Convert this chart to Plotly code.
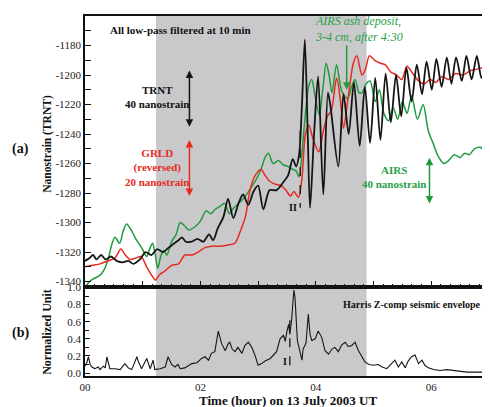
import plotly.graph_objects as go

# ---------------- data ----------------
trnt_h = [0.00, 0.08, 0.14, 0.20, 0.28, 0.36, 0.45, 0.55, 0.65, 0.75, 0.84, 0.95, 1.05, 1.15, 1.25, 1.35,
          1.45, 1.55, 1.62, 1.68, 1.75, 1.85, 1.95, 2.05, 2.15, 2.22, 2.30, 2.40, 2.48, 2.57, 2.66, 2.74,
          2.83, 2.92, 3.00, 3.09, 3.20, 3.32, 3.43, 3.52, 3.60, 3.66, 3.71, 3.76, 3.81, 3.86, 3.90, 3.97,
          4.04, 4.13, 4.21, 4.25, 4.39, 4.48, 4.57, 4.66, 4.76, 4.85, 4.94, 5.03, 5.12, 5.21, 5.30, 5.39,
          5.48, 5.57, 5.66, 5.75, 5.84, 5.92, 6.01, 6.09, 6.18, 6.27, 6.35, 6.43, 6.53, 6.61, 6.70, 6.79,
          6.87, 6.96]
trnt_v = [-1326, -1324, -1322, -1325, -1322, -1325, -1323, -1326, -1327, -1326, -1328, -1325, -1320, -1322, -1318, -1320,
          -1317, -1314, -1312, -1310, -1313, -1313, -1311, -1313, -1308, -1312, -1304, -1296, -1284, -1297, -1287, -1281,
          -1288, -1279, -1275, -1291, -1278, -1278, -1273, -1268, -1257, -1262, -1254, -1220, -1176, -1240, -1290, -1240,
          -1201, -1281, -1212, -1220, -1262, -1213, -1240, -1205, -1248, -1208, -1246, -1202, -1244, -1199, -1232, -1200,
          -1228, -1195, -1218, -1193, -1213, -1191, -1210, -1189, -1208, -1188, -1206, -1188, -1204, -1187, -1203, -1187,
          -1202, -1188]

grld_h = [0.00, 0.13, 0.26, 0.40, 0.52, 0.62, 0.70, 0.78, 0.88, 0.97, 1.07, 1.16, 1.22, 1.30, 1.38, 1.50,
          1.62, 1.73, 1.85, 1.96, 2.08, 2.20, 2.35, 2.50, 2.60, 2.70, 2.78, 2.86, 2.95, 3.05, 3.12, 3.20,
          3.30, 3.40, 3.48, 3.56, 3.62, 3.70, 3.76, 3.82, 3.88, 3.95, 4.05, 4.13, 4.20, 4.27, 4.36, 4.42,
          4.48, 4.56, 4.65, 4.71, 4.80, 4.86, 4.93, 5.02, 5.12, 5.20, 5.30, 5.40, 5.49, 5.58, 5.68, 5.78,
          5.88, 5.98, 6.08, 6.18, 6.30, 6.42, 6.55, 6.68, 6.80, 6.96]
grld_v = [-1330, -1329, -1328, -1326, -1324, -1318, -1322, -1325, -1324, -1323, -1330, -1336, -1339, -1335, -1333, -1329,
          -1328, -1322, -1322, -1320, -1317, -1316, -1316, -1315, -1314, -1305, -1296, -1278, -1268, -1264, -1268, -1272,
          -1274, -1275, -1278, -1282, -1279, -1283, -1270, -1240, -1234, -1243, -1252, -1238, -1228, -1224, -1202, -1215,
          -1236, -1215, -1192, -1187, -1200, -1196, -1187, -1190, -1192, -1193, -1198, -1200, -1203, -1194, -1199, -1204,
          -1206, -1203, -1205, -1201, -1203, -1199, -1200, -1197, -1196, -1194]

airs_h = [0.00, 0.08, 0.15, 0.25, 0.33, 0.40, 0.47, 0.52, 0.60, 0.66, 0.72, 0.80, 0.88, 0.98, 1.07, 1.12,
          1.17, 1.21, 1.26, 1.32, 1.37, 1.42, 1.50, 1.58, 1.65, 1.72, 1.80, 1.90, 2.00, 2.10, 2.18, 2.26,
          2.34, 2.42, 2.50, 2.58, 2.66, 2.74, 2.85, 2.95, 3.05, 3.12, 3.18, 3.26, 3.35, 3.44, 3.52, 3.60,
          3.66, 3.71, 3.77, 3.83, 3.88, 3.93, 3.99, 4.06, 4.12, 4.18, 4.23, 4.28, 4.36, 4.45, 4.55, 4.62,
          4.68, 4.75, 4.80, 4.87, 4.94, 5.03, 5.10, 5.18, 5.26, 5.34, 5.42, 5.50, 5.58, 5.66, 5.76, 5.86,
          5.95, 6.03, 6.12, 6.22, 6.30, 6.40, 6.50, 6.58, 6.66, 6.75, 6.85, 6.92, 6.98]
airs_v = [-1344, -1340, -1338, -1336, -1332, -1325, -1314, -1310, -1314, -1306, -1301, -1305, -1311, -1317, -1323, -1318,
          -1314, -1320, -1331, -1322, -1319, -1322, -1313, -1308, -1300, -1302, -1305, -1303, -1299, -1292, -1294, -1291,
          -1289, -1287, -1294, -1290, -1287, -1284, -1278, -1272, -1264, -1256, -1253, -1260, -1258, -1261, -1262, -1264,
          -1265, -1269, -1248, -1222, -1207, -1203, -1215, -1227, -1210, -1192, -1200, -1212, -1193, -1211, -1216, -1208,
          -1203, -1212, -1212, -1206, -1204, -1218, -1210, -1226, -1231, -1222, -1230, -1218, -1226, -1214, -1230, -1220,
          -1238, -1246, -1255, -1260, -1258, -1254, -1256, -1253, -1254, -1250, -1249, -1251, -1250]

env_h = [0.00, 0.03, 0.06, 0.09, 0.12, 0.17, 0.23, 0.26, 0.32, 0.35, 0.38, 0.40, 0.43, 0.52, 0.61, 0.69,
         0.75, 0.81, 0.87, 0.90, 0.92, 0.98, 1.07, 1.13, 1.18, 1.21, 1.30, 1.39, 1.44, 1.50, 1.56, 1.61,
         1.65, 1.73, 1.85, 1.94, 2.02, 2.08, 2.14, 2.19, 2.25, 2.31, 2.37, 2.43, 2.48, 2.51, 2.55, 2.60,
         2.65, 2.72, 2.77, 2.83, 2.89, 2.95, 3.00, 3.06, 3.12, 3.21, 3.32, 3.38, 3.44, 3.47, 3.50, 3.53,
         3.55, 3.58, 3.62, 3.64, 3.68, 3.71, 3.76, 3.78, 3.83, 3.87, 3.90, 3.93, 3.99, 4.04, 4.10, 4.16,
         4.22, 4.28, 4.33, 4.39, 4.45, 4.51, 4.56, 4.62, 4.68, 4.74, 4.80, 4.85, 4.92, 5.00, 5.08, 5.15,
         5.23, 5.30, 5.37, 5.43, 5.49, 5.55, 5.60, 5.66, 5.72, 5.78, 5.84, 5.89, 5.95, 6.04, 6.15, 6.27,
         6.38, 6.50, 6.62, 6.76, 6.98]
env_v = [0.08, 0.12, 0.19, 0.10, 0.07, 0.05, 0.07, 0.04, 0.08, 0.06, 0.19, 0.12, 0.05, 0.05, 0.04, 0.11,
         0.06, 0.04, 0.15, 0.19, 0.14, 0.05, 0.17, 0.05, 0.15, 0.04, 0.05, 0.07, 0.19, 0.10, 0.07, 0.10,
         0.05, 0.06, 0.11, 0.12, 0.17, 0.19, 0.15, 0.23, 0.25, 0.49, 0.34, 0.26, 0.34, 0.36, 0.28, 0.25,
         0.30, 0.23, 0.32, 0.36, 0.30, 0.20, 0.09, 0.11, 0.14, 0.17, 0.25, 0.40, 0.44, 0.37, 0.49, 0.57,
         0.45, 0.62, 0.97, 0.88, 0.38, 0.30, 0.15, 0.28, 0.35, 0.69, 0.45, 0.38, 0.40, 0.49, 0.42, 0.26,
         0.22, 0.28, 0.30, 0.25, 0.33, 0.36, 0.31, 0.32, 0.36, 0.26, 0.19, 0.13, 0.10, 0.09, 0.10, 0.07,
         0.05, 0.10, 0.15, 0.07, 0.13, 0.06, 0.14, 0.19, 0.21, 0.11, 0.15, 0.09, 0.06, 0.04, 0.03, 0.04,
         0.03, 0.02, 0.01, 0.01, 0.01]

shade_span = [1.23, 4.88]
strain_ticks = [-1340, -1320, -1300, -1280, -1260, -1240, -1220, -1200, -1180]
strain_minor = [-1330, -1310, -1290, -1270, -1250, -1230, -1210, -1190, -1170, -1160]
norm_ticks = [0.0, 0.2, 0.4, 0.6, 0.8, 1.0]
norm_minor = [0.1, 0.3, 0.5, 0.7, 0.9]
hour_ticks = [0, 2, 4, 6]
hour_labels = ["00", "02", "04", "06"]

# markers / scale bars
trnt_bar = (1.81, -1196, -1235)
grld_bar = (1.81, -1243, -1282)
airs_bar = (5.97, -1255, -1287)
ash_arrow = (4.535, -1179, -1210)
marker_II = (3.73, -1238, -1290)
marker_I = (3.55, 0.09, 0.64)

BLACK = "#151515"
RED = "#e62a1e"
GREEN = "#1f9a3c"
GREEN_TXT = "#27a048"
FONT = "Liberation Serif"

fig = go.Figure()
fig.add_trace(go.Scatter(x=airs_h, y=airs_v, mode="lines", line=dict(color=GREEN, width=1.5, shape="spline", smoothing=0.8),
                         xaxis="x", yaxis="y", showlegend=False))
fig.add_trace(go.Scatter(x=grld_h, y=grld_v, mode="lines", line=dict(color=RED, width=1.5, shape="spline", smoothing=0.8),
                         xaxis="x", yaxis="y", showlegend=False))
fig.add_trace(go.Scatter(x=trnt_h, y=trnt_v, mode="lines", line=dict(color=BLACK, width=1.8, shape="spline", smoothing=0.8),
                         xaxis="x", yaxis="y", showlegend=False))
fig.add_trace(go.Scatter(x=env_h, y=env_v, mode="lines", line=dict(color=BLACK, width=1.1),
                         xaxis="x2", yaxis="y2", showlegend=False))

XR = [0, 6.984]
split = 90 / 366

axis_font = dict(family=FONT, size=11, color="#222")
fig.update_layout(
    width=490, height=407,
    # the page body adds an 8px offset; margins compensate so the plot lands where the reference has it
    margin=dict(l=77, r=10, t=2, b=39),
    paper_bgcolor="white", plot_bgcolor="rgba(0,0,0,0)",
    font=dict(family=FONT, color="#111"),
    xaxis=dict(domain=[0, 1], anchor="y", range=XR, showticklabels=False, showgrid=False, zeroline=False,
               showline=True, linecolor="#111", linewidth=1.5, mirror=True,
               ticks="inside", tickmode="linear", tick0=0, dtick=1, ticklen=7, tickwidth=1.2, tickcolor="#111",
               minor=dict(ticks="inside", tickmode="linear", tick0=0, dtick=1/6, ticklen=4, tickwidth=1, tickcolor="#111")),
    yaxis=dict(domain=[split, 1], anchor="x", range=[-1344, -1160], showgrid=False, zeroline=False,
               showline=True, linecolor="#111", linewidth=1.5, mirror=False,
               tickmode="array", tickvals=strain_ticks, ticktext=["-" + str(abs(t)) for t in strain_ticks],
               ticks="inside", ticklen=6, tickwidth=1.2, tickcolor="#111", tickfont=axis_font,
               minor=dict(ticks="inside", tickmode="array", tickvals=strain_minor, ticklen=6, tickwidth=1.2, tickcolor="#111")),
    xaxis2=dict(domain=[0, 1], anchor="y2", range=XR, showgrid=False, zeroline=False,
                showline=True, linecolor="#111", linewidth=1.5, mirror=True,
                tickmode="array", tickvals=hour_ticks, ticktext=hour_labels, ticks="", tickfont=axis_font),
    yaxis2=dict(domain=[0, split], anchor="x2", range=[-0.035, 1.0], showgrid=False, zeroline=False,
                showline=True, linecolor="#111", linewidth=1.5, mirror="ticks",
                tickmode="array", tickvals=norm_ticks, ticktext=["%.1f" % t for t in norm_ticks],
                ticks="inside", ticklen=5, tickwidth=1.2, tickcolor="#111", tickfont=axis_font,
                minor=dict(ticks="inside", tickmode="array", tickvals=norm_minor, ticklen=4, tickwidth=1, tickcolor="#111")),
)

# grey shaded interval across both panels
fig.add_shape(type="rect", xref="x", yref="paper", x0=shade_span[0], x1=shade_span[1], y0=0, y1=1,
              fillcolor="#c9c9cb", line=dict(width=0), layer="below")

# dashed markers
fig.add_shape(type="line", xref="x", yref="y", x0=marker_II[0], x1=marker_II[0], y0=marker_II[1], y1=marker_II[2],
              line=dict(color=BLACK, width=1.3, dash="dash"))
fig.add_shape(type="line", xref="x2", yref="y2", x0=marker_I[0], x1=marker_I[0], y0=marker_I[1], y1=marker_I[2],
              line=dict(color=BLACK, width=1.3, dash="dash"))

def bar(xy, color):
    x, y0, y1 = xy
    fig.add_annotation(x=x, y=y1, ax=x, ay=y0, xref="x", yref="y", axref="x", ayref="y", text="",
                       showarrow=True, arrowhead=2, arrowside="end+start", arrowsize=1, arrowwidth=1.5,
                       arrowcolor=color)

bar(trnt_bar, BLACK)
bar(grld_bar, RED)
bar(airs_bar, GREEN)
fig.add_annotation(x=ash_arrow[0], y=ash_arrow[2], ax=ash_arrow[0], ay=ash_arrow[1], xref="x", yref="y",
                   axref="x", ayref="y", text="", showarrow=True, arrowhead=2, arrowsize=1, arrowwidth=1.5,
                   arrowcolor=GREEN)

def txt(x, y, s, color="#111", size=11, bold=True, italic=False, xanchor="center", xref="x", yref="y", angle=0, align="center"):
    if bold:
        s = "<b>" + s + "</b>"
    if italic:
        s = "<i>" + s + "</i>"
    fig.add_annotation(x=x, y=y, xref=xref, yref=yref, text=s, showarrow=False, xanchor=xanchor, yanchor="middle",
                       font=dict(family=FONT, size=size, color=color), textangle=angle, align=align)

txt(1.65, -1169.5, "All low-pass filtered at 10 min", size=11)
txt(3.95, -1168.5, "AIRS ash deposit,<br>3-4 cm, after 4:30", color=GREEN_TXT, size=12, bold=False, italic=True,
    xanchor="left", align="left")
txt(1.25, -1215, "TRNT<br>40 nanostrain", size=11)
txt(1.25, -1263, "GRLD<br>(reversed)<br>20 nanostrain", color=RED, size=11)
txt(5.37, -1269, "AIRS<br>40 nanostrain", color=GREEN_TXT, size=11)
txt(3.60, -1290, "II", size=10)
txt(3.47, 0.13, "I", size=10, xref="x2", yref="y2")
txt(6.88, 0.80, "Harris Z-comp seismic envelope", size=10, xanchor="right", xref="x2", yref="y2")

# axis titles and panel labels
txt(-0.092, 0.645, "Nanostrain (TRNT)", size=11.5, xref="paper", yref="paper", angle=-90)
txt(-0.094, 0.123, "Normalized Unit", size=12, xref="paper", yref="paper", angle=-90)
txt(-0.161, 0.631, "(a)", size=14, xref="paper", yref="paper")
txt(-0.161, 0.120, "(b)", size=14, xref="paper", yref="paper")
txt(0.504, -0.069, "Time (hour) on 13 July 2003 UT", size=13, xref="paper", yref="paper")

fig.write_html("out.html")
